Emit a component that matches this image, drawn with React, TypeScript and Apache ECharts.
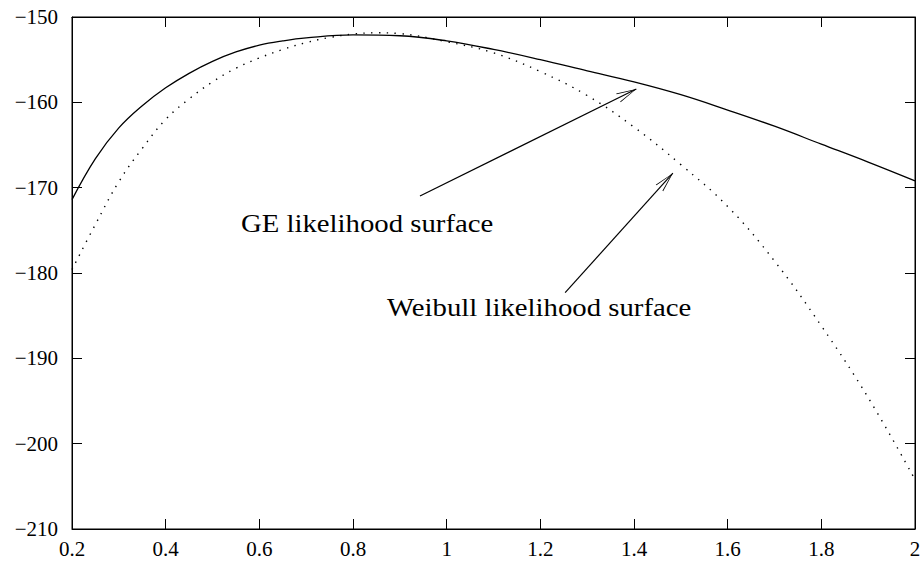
import React, { useEffect, useRef } from "react";
import * as echarts from "echarts";

// GE likelihood surface (solid)
const geX = [0.2, 0.25, 0.3, 0.35, 0.4, 0.45, 0.5, 0.55, 0.6, 0.65, 0.7, 0.8, 0.9, 1.0, 1.1, 1.2, 1.3, 1.4, 1.5, 1.6, 1.7, 1.8, 1.9, 2.0];
const geY = [-171.4, -166.6, -163.0, -160.4, -158.3, -156.6, -155.2, -154.1, -153.3, -152.8, -152.45, -152.1, -152.2, -152.8, -153.8, -155.0, -156.3, -157.6, -159.1, -160.9, -162.8, -164.9, -167.0, -169.2];

// Weibull likelihood surface (dotted)
const wbX = [0.2, 0.25, 0.3, 0.35, 0.4, 0.45, 0.5, 0.55, 0.6, 0.65, 0.7, 0.75, 0.8, 0.85, 0.9, 1.0, 1.1, 1.2, 1.3, 1.4, 1.5, 1.6, 1.7, 1.8, 1.9, 2.0];
const wbY = [-179.6, -174.3, -169.3, -165.4, -162.0, -159.6, -157.6, -156.0, -154.8, -153.8, -153.0, -152.4, -152.0, -151.85, -151.95, -152.9, -154.2, -156.4, -159.2, -162.9, -167.3, -172.2, -178.6, -186.2, -194.6, -204.2];

// annotation arrows [fromX, fromY, toX, toY] in data units
const geArrow = [0.943, -170.98, 1.405, -158.44];
const wbArrow = [1.253, -182.3, 1.483, -168.3];

const geLabel = "GE likelihood surface";
const wbLabel = "Weibull likelihood surface";

const xTicks = { min: 0.2, max: 2, interval: 0.2 };
const yTicks = { min: -210, max: -150, interval: 10 };

const FONT = "'Liberation Serif', 'Times New Roman', serif";
const arrowHead =
  "path://M5,20 L10,40 L9,40 L5,22.5 L1,40 L0,40 Z M5,0 L5.01,0 L5,0.01 Z";

export default function App() {
  const ref = useRef<HTMLDivElement>(null);
  useEffect(() => {
    if (!ref.current) return;
    const chart = echarts.init(ref.current, undefined, { renderer: "svg" });
    const fmtX = (v: number) => String(+v.toFixed(1));
    const fmtY = (v: number) => (v < 0 ? "\u2212" + Math.abs(v) : String(v));
    const tick = { show: true, inside: true, length: 10, lineStyle: { color: "#000", width: 1 } };
    const axLine = { show: true, lineStyle: { color: "#000", width: 1 } };
    const lbl = { fontFamily: FONT, fontSize: 21, color: "#000" };
    chart.setOption({
      animation: false,
      backgroundColor: "#fff",
      grid: { left: 72, right: 9, top: 17, bottom: 32, show: true, borderColor: "#000", borderWidth: 1 },
      xAxis: [
        {
          type: "value", ...xTicks, position: "bottom",
          axisLine: axLine, axisTick: tick, splitLine: { show: false },
          axisLabel: { ...lbl, margin: 9, formatter: fmtX },
        },
        {
          type: "value", ...xTicks, position: "top",
          axisLine: axLine, axisTick: tick, splitLine: { show: false },
          axisLabel: { show: false },
        },
      ],
      yAxis: [
        {
          type: "value", ...yTicks, position: "left",
          axisLine: axLine, axisTick: tick, splitLine: { show: false },
          axisLabel: { ...lbl, margin: 14, formatter: fmtY },
        },
        {
          type: "value", ...yTicks, position: "right",
          axisLine: axLine, axisTick: tick, splitLine: { show: false },
          axisLabel: { show: false },
        },
      ],
      series: [
        {
          type: "line",
          name: "GE",
          data: geX.map((x, i) => [x, geY[i]]),
          showSymbol: false,
          smooth: 0.4,
          lineStyle: { color: "#000", width: 1.3, type: "solid" },
          markLine: {
            silent: true,
            symbol: ["none", arrowHead],
            symbolSize: [10, 40],
            label: { show: false },
            lineStyle: { color: "#000", width: 1.2, type: "solid" },
            data: [
              [{ coord: [geArrow[0], geArrow[1]] }, { coord: [geArrow[2], geArrow[3]] }],
              [{ coord: [wbArrow[0], wbArrow[1]] }, { coord: [wbArrow[2], wbArrow[3]] }],
            ],
          },
        },
        {
          type: "line",
          name: "Weibull",
          data: wbX.map((x, i) => [x, wbY[i]]),
          showSymbol: false,
          smooth: 0.4,
          lineStyle: { color: "#000", width: 1.4, type: [1.4, 6.4] },
        },
      ],
      graphic: [
        {
          type: "text", x: 241, y: 224, scaleX: 1.15,
          style: { text: geLabel, font: `25px ${FONT}`, fill: "#000", verticalAlign: "middle" },
        },
        {
          type: "text", x: 387, y: 308, scaleX: 1.15,
          style: { text: wbLabel, font: `25px ${FONT}`, fill: "#000", verticalAlign: "middle" },
        },
      ],
    });
    return () => chart.dispose();
  }, []);
  return <div ref={ref} style={{ width: 924, height: 561, position: "absolute", left: 0, top: 0 }} />;
}
